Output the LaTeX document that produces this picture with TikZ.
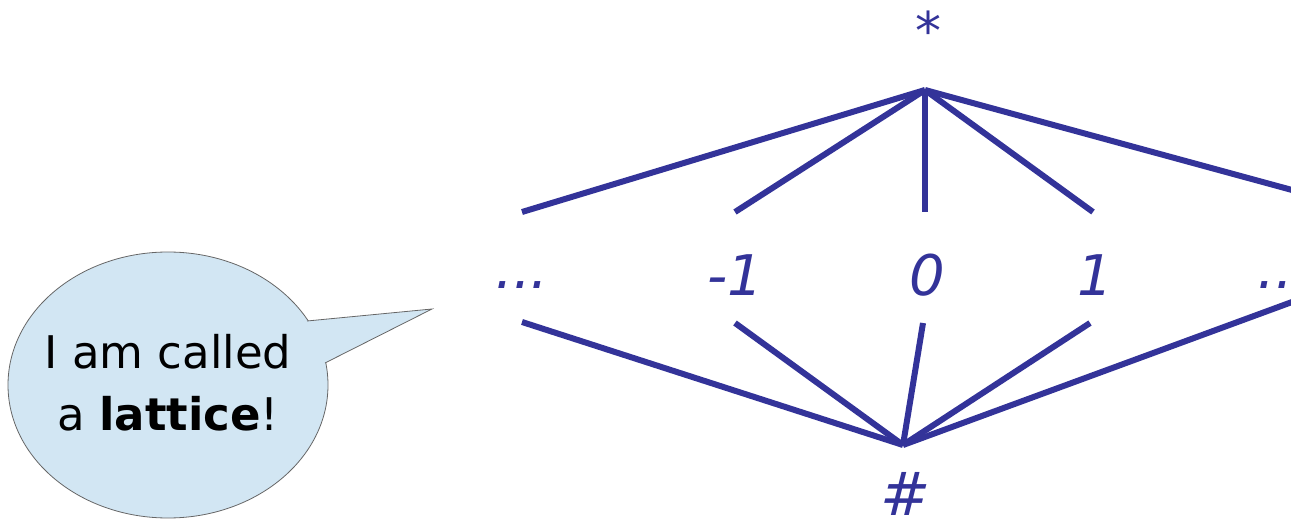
\documentclass[tikz,border=0pt]{standalone}
\usepackage{fontspec}
\setmainfont{DejaVu Sans}
\newfontfamily\labfont{DejaVu Sans}
\definecolor{lat}{HTML}{333399}
\definecolor{bub}{HTML}{D2E6F3}
\begin{document}
\begin{tikzpicture}[x=1pt,y=-1pt,
  edge/.style={draw=lat,line width=6pt},
  lab/.style={text=lat,font=\labfont\itshape\fontsize{56}{60}\selectfont,inner sep=0pt},
  sym/.style={text=lat,font=\labfont\itshape\fontsize{52}{56}\selectfont,inner sep=0pt}]
\useasboundingbox (0,0) rectangle (1291,526);
\clip (0,0) rectangle (1291,526);
% speech bubble
\draw[fill=bub,draw=gray!80!black,line width=0.8pt] (168,385) ellipse[x radius=160,y radius=133];
\fill[bub] (307,321) -- (432,309) -- (325,363) -- (295,345) -- cycle;
\draw[draw=gray!80!black,line width=0.8pt,line join=miter] (307,321) -- (432,309) -- (325,363);
\node[align=center,font=\fontsize{45}{62}\selectfont,inner sep=0pt] (say) at (168,383) {I am called\\a \textbf{lattice}!};
% lattice
\coordinate (top) at (925,90);
\coordinate (bot) at (903,445);
\node[sym] (star) at (928,30) {*};
\node[sym,font=\labfont\itshape\fontsize{60}{64}\selectfont] (hash) at (906,494) {\#};
\node[lab] (ldots) at (522,285) {...};
\node[lab] (m1) at (735,275) {-1};
\node[lab] (z) at (927,275) {0};
\node[lab] (p1) at (1095,275) {1};
\node[lab,anchor=east] (rdots) at (1293,285) {..};
\coordinate (u1) at (522,212);
\coordinate (u2) at (735,212);
\coordinate (u3) at (925,212);
\coordinate (u4) at (1093,212);
\coordinate (u5) at (1292,190);
\coordinate (d1) at (522,322);
\coordinate (d2) at (735,323);
\coordinate (d3) at (923,323);
\coordinate (d4) at (1090,323);
\coordinate (d5) at (1292,302);
\foreach \p in {u1,u2,u3,u4,u5} \draw[edge] (top) -- (\p);
\foreach \p in {d1,d2,d3,d4,d5} \draw[edge] (bot) -- (\p);
\end{tikzpicture}
\end{document}
